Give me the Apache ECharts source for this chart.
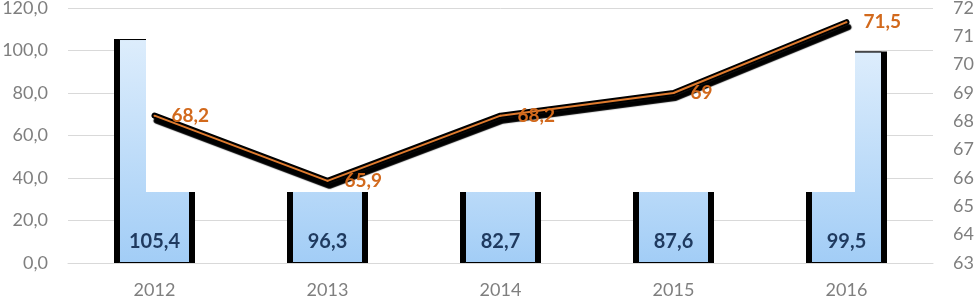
<!DOCTYPE html>
<html>
<head>
<meta charset="utf-8">
<script src="https://cdn.jsdelivr.net/npm/echarts@6/dist/echarts.min.js"></script>
<style>
  html, body { margin: 0; padding: 0; background: #fff; }
  #main { width: 975px; height: 299px; }
</style>
</head>
<body>
<div id="main"></div>
<script>
// data
var years = ['2012', '2013', '2014', '2015', '2016'];
var barValues = [105.4, 96.3, 82.7, 87.6, 99.5];
var lineValues = [68.2, 65.9, 68.2, 69, 71.5];

var font = 'Lato';
var comma = function (v, d) {
  return (d == null ? String(v) : v.toFixed(d)).replace('.', ',');
};

var chart = echarts.init(document.getElementById('main'));

var option = {
  backgroundColor: '#fff',
  animation: false,
  grid: { left: 68, right: 42, top: 8, bottom: 36, outerBoundsMode: 'none' },
  xAxis: [{
    type: 'category',
    data: years,
    axisLine: { lineStyle: { color: '#d9d9d9' } },
    axisTick: { show: false },
    axisLabel: { color: '#7f7f7f', fontFamily: font, fontSize: 18, margin: 18 }
  }, {
    // hidden twin axis so the black backing bars sit centred behind the blue ones
    type: 'category',
    data: years,
    show: false
  }],
  yAxis: [{
    type: 'value',
    min: 0, max: 120, interval: 20,
    axisLine: { show: false },
    axisTick: { show: false },
    splitLine: { lineStyle: { color: '#d9d9d9' } },
    axisLabel: {
      color: '#7f7f7f', fontFamily: font, fontSize: 18, margin: 20,
      formatter: function (v) { return comma(v, 1); }
    }
  }, {
    type: 'value',
    min: 63, max: 72, interval: 1,
    axisLine: { show: false },
    axisTick: { show: false },
    splitLine: { show: false },
    axisLabel: { color: '#7f7f7f', fontFamily: font, fontSize: 18, margin: 20 }
  }],
  // white panel that hides the middle of the bars, as in the original
  graphic: [{
    type: 'rect',
    z: 5,
    shape: { x: 146, y: 14, width: 709, height: 178 },
    style: { fill: '#fff' }
  }],
  series: [{
    // black edges of the bars
    type: 'bar',
    xAxisIndex: 1,
    data: barValues,
    barWidth: 81,
    z: 2,
    itemStyle: { color: '#000' },
    silent: true
  }, {
    type: 'bar',
    data: barValues,
    barWidth: 71,
    z: 3,
    itemStyle: {
      color: new echarts.graphic.LinearGradient(0, 0, 0, 1, [
        { offset: 0, color: '#ddedfc' },
        { offset: 1, color: '#a2cdf6' }
      ]),
      borderColor: '#000',
      borderWidth: 1
    },
    label: {
      show: true,
      position: 'insideBottom',
      distance: 11,
      color: '#1f3a5f',
      fontFamily: font,
      fontWeight: 'bold',
      fontSize: 20,
      formatter: function (p) { return comma(p.value); }
    }
  }, {
    // heavy black shadow under the line
    type: 'line',
    yAxisIndex: 1,
    data: lineValues,
    z: 10,
    symbol: 'none',
    silent: true,
    lineStyle: {
      color: '#000', width: 6, cap: 'round', join: 'round',
      shadowColor: '#000', shadowBlur: 1, shadowOffsetX: 2, shadowOffsetY: 5
    }
  }, {
    type: 'line',
    yAxisIndex: 1,
    data: lineValues,
    z: 11,
    symbol: 'circle',
    symbolSize: 2,
    itemStyle: { color: '#e07b2e' },
    lineStyle: { color: '#e07b2e', width: 2 },
    label: {
      show: true,
      position: 'right',
      distance: 16,
      color: '#d2691c',
      fontFamily: font,
      fontWeight: 'bold',
      fontSize: 19,
      formatter: function (p) { return comma(p.value); }
    }
  }]
};

chart.setOption(option);
</script>
</body>
</html>
